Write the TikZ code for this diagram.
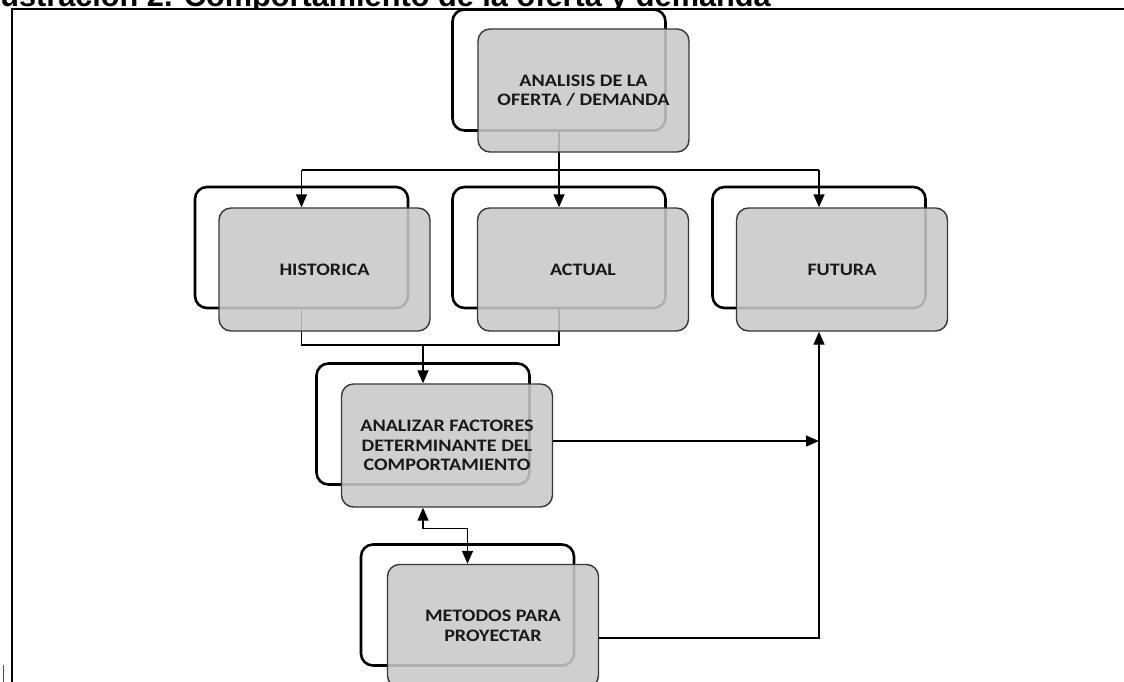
\documentclass[tikz,border=0pt]{standalone}
\usepackage{fontspec}
\setmainfont{Liberation Sans}
\newfontfamily\boxfont{Carlito}[FakeStretch=1.15]
\usetikzlibrary{arrows.meta, calc}
\definecolor{boxgray}{RGB}{200,200,200}
\definecolor{edgegray}{RGB}{55,55,55}
\definecolor{textdark}{RGB}{25,25,25}

\begin{document}
\begin{tikzpicture}[x=1pt, y=-1pt,
  backbox/.style={draw, line width=2.6pt, rounded corners=12pt, minimum width=213pt, minimum height=121pt, inner sep=0pt},
  frontbox/.style={draw=edgegray, line width=1.4pt, fill=boxgray, fill opacity=0.88, text opacity=1, rounded corners=12pt, minimum width=211pt, minimum height=123pt, inner sep=0pt, align=center, text=textdark, font=\boxfont\bfseries\fontsize{17.5}{19.5}\selectfont},
  link/.style={line width=1.4pt},
  arr/.style={link, -{Triangle[length=13pt, width=11pt]}}
]
  \useasboundingbox (0,0) rectangle (1124,682);

  % Caption, cut at the top of the page
  \begin{scope}
    \clip (0,0) rectangle (1124,8);
    \node[font=\bfseries\fontsize{30.7}{36}\selectfont, anchor=base west, inner sep=0pt] (caption) at (-17,6.5) {Ilustración 2. Comportamiento de la oferta y demanda};
  \end{scope}

  % Frame
  \draw[line width=2pt] (12,682) -- (12,9) -- (1124,9);
  \draw[line width=1pt, black!70] (3,665) -- (3,682);

  % Back outlines
  \node[backbox] (Ab) at (559,70) {};
  \node[backbox] (Hb) at (301.5,247.5) {};
  \node[backbox] (Cb) at (559,247.5) {};
  \node[backbox] (Fb) at (819,247.5) {};
  \node[backbox] (Zb) at (423,424) {};
  \node[backbox] (Mb) at (467.5,605) {};

  % Lines under the grey boxes
  \coordinate (split) at (559,170);
  \coordinate (join) at (423,345);
  \draw[link] (Ab.south) -- (split);
  \draw[link] (Hb.south) |- (join) -| (Cb.south);

  % Grey boxes
  \node[frontbox] (Af) at (583.5,90.5) {ANALISIS DE LA\\OFERTA / DEMANDA};
  \node[frontbox] (Hf) at (324.5,269.5) {HISTORICA};
  \node[frontbox] (Cf) at (583,269.5) {ACTUAL};
  \node[frontbox] (Ff) at (842,269.5) {FUTURA};
  \node[frontbox] (Zf) at (447,445.5) {ANALIZAR FACTORES\\DETERMINANTE DEL\\COMPORTAMIENTO};
  \node[frontbox] (Mf) at (493,626) {METODOS PARA\\PROYECTAR};

  % Arrows
  \draw[arr] (split) -- (Ab.south |- Cf.north);
  \draw[link] (split -| Hb) -- (split -| Fb);
  \draw[arr] (split -| Hb) -- (Hb |- Hf.north);
  \draw[arr] (split -| Fb) -- (Fb |- Ff.north);
  \draw[arr] (join) -- (Zb |- Zf.north);
  \coordinate (zout) at ([yshift=4.5pt]Zf.east);
  \coordinate (mout) at ([yshift=-12pt]Mf.east);
  \draw[arr] (zout) -- (zout -| Fb);
  \draw[arr] (mout) -| (Fb |- Ff.south);
  \draw[link, {Triangle[length=13pt, width=11pt]}-{Triangle[length=13pt, width=11pt]}] (Zb |- Zf.south) -- ++(0,21) -| (Mb |- Mf.north);
\end{tikzpicture}
\end{document}
